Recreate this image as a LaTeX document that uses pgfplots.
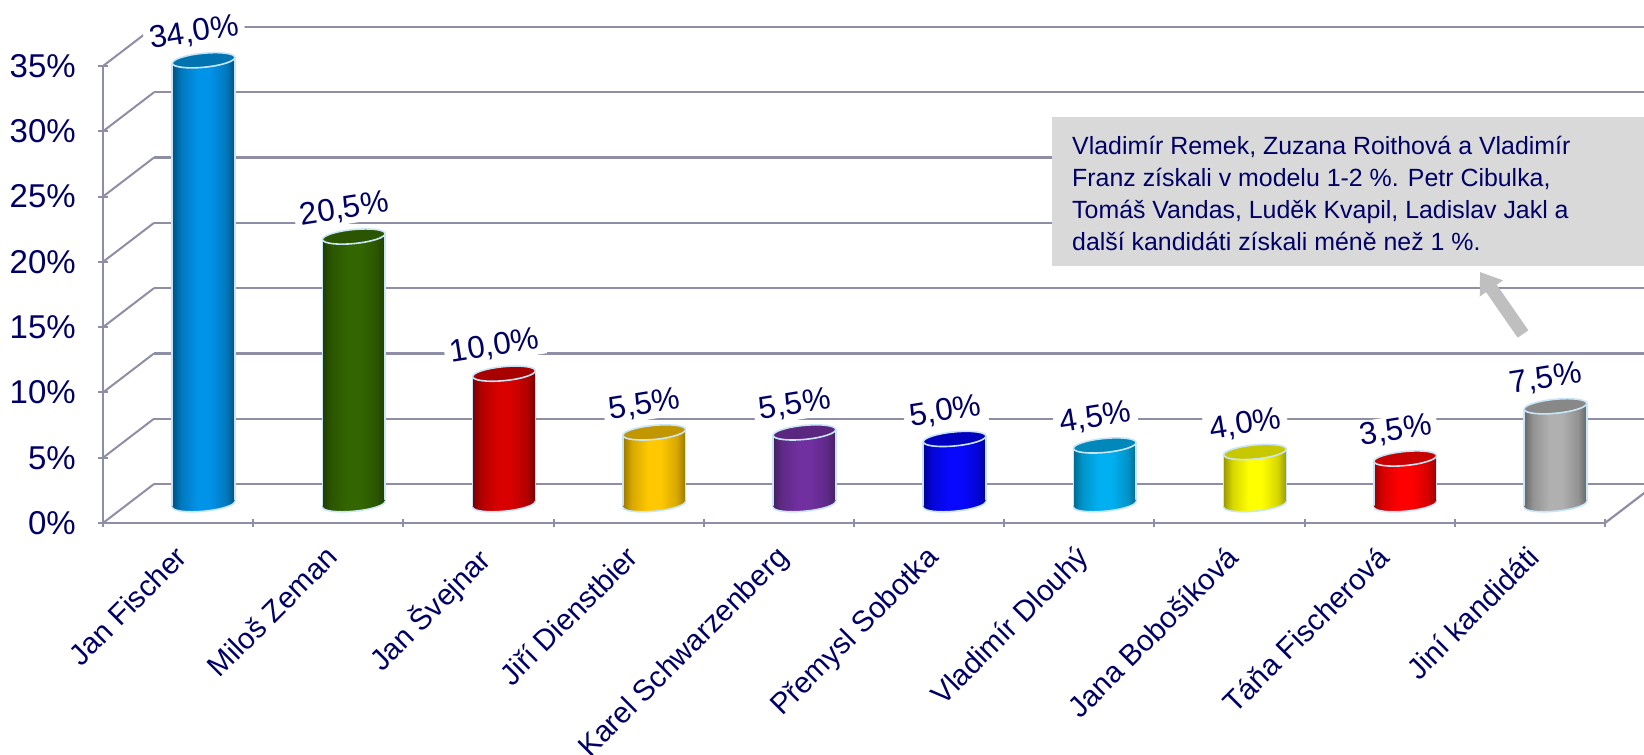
\documentclass[border=0pt]{standalone}
\usepackage{fontspec}
\setmainfont{Liberation Sans}
\usepackage{pgfplots}
\pgfplotsset{compat=1.18}
\usetikzlibrary{arrows.meta}
\definecolor{txt}{HTML}{000066}
\definecolor{gridc}{HTML}{8E8EA6}
\definecolor{edge}{HTML}{C8E6F8}
\newcommand\ellfull{(31.35pt,3.02pt) .. controls (30.98pt,6.87pt) and (16.64pt,8.64pt) .. (-0.67pt,6.97pt) .. controls (-17.98pt,5.30pt) and (-31.72pt,0.83pt) .. (-31.35pt,-3.02pt) .. controls (-30.98pt,-6.87pt) and (-16.64pt,-8.64pt) .. (0.67pt,-6.97pt) .. controls (17.98pt,-5.30pt) and (31.72pt,-0.83pt) .. (31.35pt,3.02pt) -- cycle}
\newcommand\ellbot{(-31.35pt,-3.02pt) .. controls (-30.98pt,-6.87pt) and (-16.64pt,-8.64pt) .. (0.67pt,-6.97pt) .. controls (17.98pt,-5.30pt) and (31.72pt,-0.83pt) .. (31.35pt,3.02pt)}
\newcommand\defcyl[4]{% index, dark, mid, top
  \definecolor{c#1D}{HTML}{#2}\definecolor{c#1M}{HTML}{#3}\definecolor{c#1T}{HTML}{#4}%
  \colorlet{c#1E}{c#1M!60!c#1D}%
  \pgfdeclarehorizontalshading{cyl#1}{100bp}{color(0bp)=(c#1D); color(25bp)=(c#1D); color(32bp)=(c#1E); color(45bp)=(c#1M); color(55bp)=(c#1M); color(68bp)=(c#1E); color(75bp)=(c#1D); color(100bp)=(c#1D)}%
  \pgfdeclareplotmark{top#1}{\path[fill=c#1T, draw=edge, line width=1.6pt] \ellfull;}%
  \pgfdeclareplotmark{bot#1}{\path[draw=none, shading=cyl#1] \ellfull;\path[draw=edge, line width=1.6pt] \ellbot;}%
}
\defcyl{0}{00507E}{0093E8}{0073B0}
\defcyl{1}{1F3D00}{336600}{2B5500}
\defcyl{2}{7A0000}{D90000}{A80000}
\defcyl{3}{9A7700}{FFC800}{C29600}
\defcyl{4}{44205F}{7030A0}{5A2680}
\defcyl{5}{000099}{0808FF}{0000C0}
\defcyl{6}{006A91}{00B0F0}{0088BA}
\defcyl{7}{999900}{FFFF00}{C8C800}
\defcyl{8}{990000}{FF0000}{C80000}
\defcyl{9}{666666}{B0B0B0}{888888}
\tikzset{cylshift/.style={shift={(25.5pt,18.8pt)}}}
\newcommand\cyl[3]{% index, x position, value
  \pgfmathsetmacro\xl{#2-0.2087}\pgfmathsetmacro\xr{#2+0.2087}%
  \pgfmathsetmacro\bl{-0.23}\pgfmathsetmacro\br{0.23}%
  \pgfmathsetmacro\tl{#3-0.23}\pgfmathsetmacro\tr{#3+0.23}%
  \addplot[forget plot, only marks, cylshift, mark=bot#1, mark options={draw=none}] coordinates {(#2,0)};
  \edef\doit{\noexpand\addplot[forget plot, draw=none, mark=none, shading=cyl#1, cylshift] coordinates {(\xl,\bl)(\xr,\br)(\xr,\tr)(\xl,\tl)};
  \noexpand\addplot[forget plot, edge, line width=1.6pt, mark=none, cylshift] coordinates {(\xl,\bl)(\xl,\tl)};
  \noexpand\addplot[forget plot, edge, line width=1.6pt, mark=none, cylshift] coordinates {(\xr,\br)(\xr,\tr)};}\doit
  \addplot[forget plot, only marks, cylshift, mark=top#1, point meta=y,
     nodes near coords={\pgfmathprintnumber[fixed,fixed zerofill,precision=1,use comma,assume math mode=true]{\pgfplotspointmeta}\%},
     every node near coord/.style={anchor=center, rotate=9, xshift=-5pt, yshift=28.5pt, fill=white, inner xsep=6pt, inner ysep=2pt, text=txt, font=\fontsize{31.5}{36}\selectfont}]
     coordinates {(#2,#3)};
}
\newcommand\wall[1]{%
  \addplot[forget plot, gridc, line width=2.2pt, mark=none, shift={(51pt,39pt)}] coordinates {(0,#1)(10,#1)};
  \draw[gridc, line width=2pt] (axis cs:0,#1) -- ++(51pt,39pt);
}
\begin{document}
\begin{tikzpicture}
\path[use as bounding box] (0,0) rectangle (1644pt,-755pt);
\clip (0,0) rectangle (1644pt,-755pt);
\begin{axis}[
  at={(103pt,-523pt)}, anchor=origin,
  scale only axis, width=1502pt, height=457pt,
  xmin=0, xmax=10, ymin=0, ymax=35, clip=false,
  axis lines=left, axis line style={-, gridc, line width=2.6pt},
  tick style={gridc, line width=2pt},
  tickwidth=10pt, subtickwidth=8pt,
  xtick={0.5,1.5,...,9.5},
  minor xtick={0,1,...,10},
  major x tick style={draw=none},
  xticklabels={Jan Fischer,Miloš Zeman,Jan Švejnar,Jiří Dienstbier,Karel Schwarzenberg,Přemysl Sobotka,Vladimír Dlouhý,Jana Bobošíková,Táňa Fischerová,Jiní kandidáti},
  xticklabel style={rotate=45, anchor=north east, inner sep=0pt, yshift=-8.2pt, xshift=-14.2pt, text=txt, font=\fontsize{29.5}{34}\selectfont},
  ytick={0,5,...,35},
  yticklabel={\pgfmathprintnumber[assume math mode=true]{\tick}\%},
  yticklabel style={text=txt, anchor=east, inner sep=0pt, xshift=-22pt, font=\fontsize{33}{38}\selectfont},
]
\wall{0}\wall{5}\wall{10}\wall{15}\wall{20}\wall{25}\wall{30}\wall{35}
\addplot[forget plot, gridc, line width=2.2pt, mark=none] coordinates {(10,0)(10.34,2.99)};
\cyl{0}{0.5}{34}
\cyl{1}{1.5}{20.5}
\cyl{2}{2.5}{10}
\cyl{3}{3.5}{5.5}
\cyl{4}{4.5}{5.5}
\cyl{5}{5.5}{5}
\cyl{6}{6.5}{4.5}
\cyl{7}{7.5}{4}
\cyl{8}{8.5}{3.5}
\cyl{9}{9.5}{7.5}
\end{axis}
\fill[fill=black!15] (1052pt,-117pt) rectangle (1644pt,-266pt);
\node[anchor=north west, align=left, inner sep=0pt, text=txt, font=\fontsize{24.9}{32.2}\selectfont] at (1072pt,-135.5pt)
 {Vladimír Remek, Zuzana Roithová a Vladimír\\Franz získali v modelu 1-2 \%. Petr Cibulka,\\Tomáš Vandas, Luděk Kvapil, Ladislav Jakl a\\další kandidáti získali méně než 1 \%.};
\draw[black!25, line width=13pt, -{Triangle[length=20pt,width=27pt]}] (1523pt,-334pt) -- (1480pt,-272pt);
\end{tikzpicture}
\end{document}
